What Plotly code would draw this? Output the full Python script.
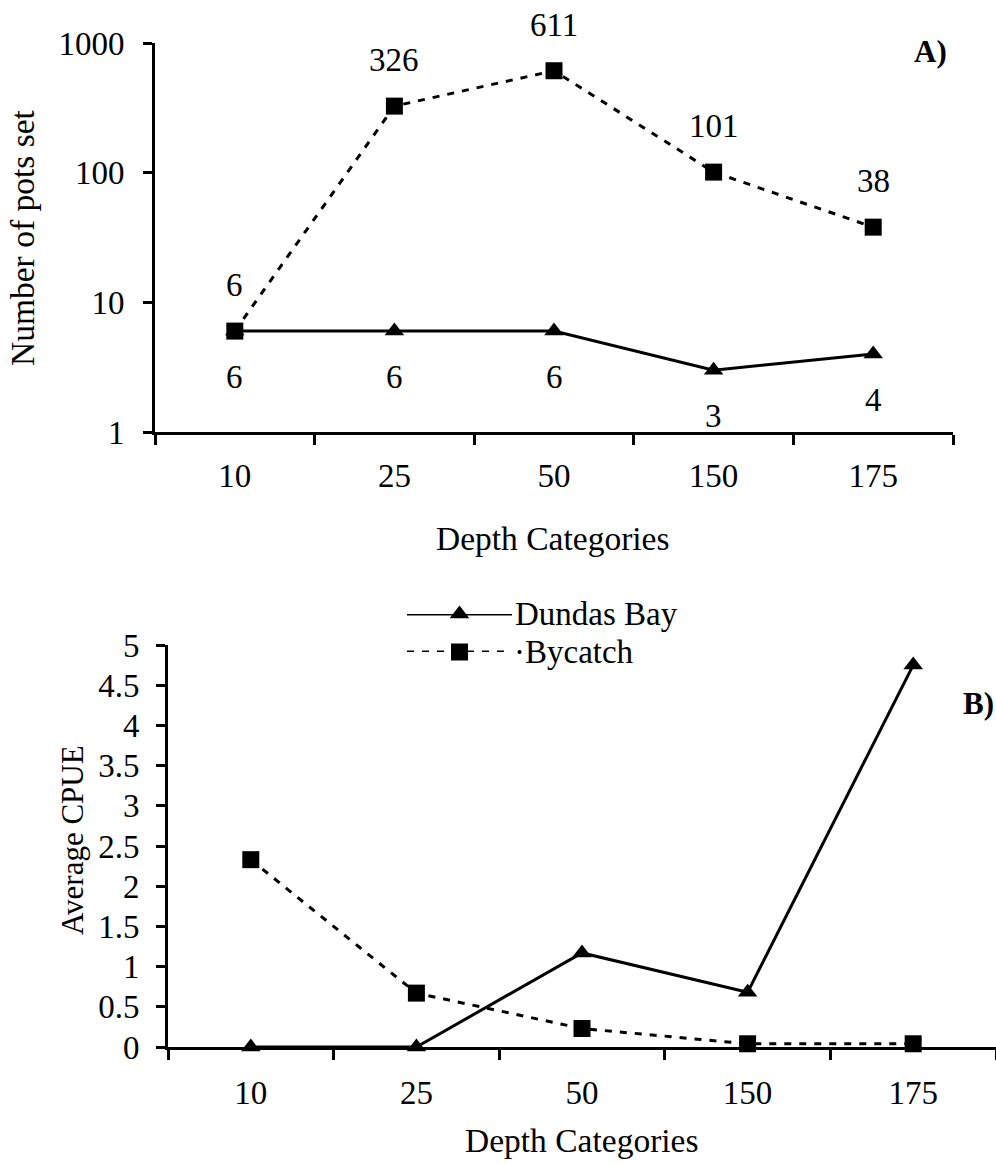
import math
import plotly.graph_objects as go

# ---- data ----
depth_categories = ["10", "25", "50", "150", "175"]

# Panel A: number of pots set per depth category
pots_dundas = [6, 6, 6, 3, 4]
pots_bycatch = [6, 326, 611, 101, 38]

# Panel B: average CPUE per depth category
cpue_dundas = [0.0, 0.0, 1.17, 0.68, 4.75]
cpue_bycatch = [2.33, 0.67, 0.23, 0.04, 0.04]

pots_ticks = [1, 10, 100, 1000]
cpue_ticks = [0, 0.5, 1, 1.5, 2, 2.5, 3, 3.5, 4, 4.5, 5]

series_names = ["Dundas Bay", "Bycatch"]

# ---- page geometry (pixels) ----
W, H = 996, 1164
FONT = "Times New Roman, Liberation Serif, serif"
BLACK = "#000000"
FS = 33


def fx(p):
    return p / W


def fy(p):
    return 1 - p / H


solid = dict(color=BLACK, width=3)
dashed = dict(color=BLACK, width=3, dash="7px,8px")
tri = dict(symbol="triangle-up", size=17, color=BLACK)
sq = dict(symbol="square", size=17, color=BLACK)

fig = go.Figure()

# Panel A
fig.add_trace(go.Scatter(x=depth_categories, y=pots_bycatch, mode="lines+markers",
                         line=dashed, marker=sq, xaxis="x", yaxis="y",
                         cliponaxis=False, showlegend=False))
fig.add_trace(go.Scatter(x=depth_categories, y=pots_dundas, mode="lines+markers",
                         line=solid, marker=tri, xaxis="x", yaxis="y",
                         cliponaxis=False, showlegend=False))

# Panel B
fig.add_trace(go.Scatter(x=depth_categories, y=cpue_bycatch, mode="lines+markers",
                         line=dashed, marker=sq, xaxis="x2", yaxis="y2",
                         cliponaxis=False, showlegend=False))
fig.add_trace(go.Scatter(x=depth_categories, y=cpue_dundas, mode="lines+markers",
                         line=solid, marker=tri, xaxis="x2", yaxis="y2",
                         cliponaxis=False, showlegend=False))

# Legend keys drawn on a small hidden axis pair
for row, (ln, mk) in zip([1, 0], [(solid, tri), (dashed, sq)]):
    fig.add_trace(go.Scatter(x=[0, 1], y=[row, row], mode="lines", line=ln,
                             xaxis="x3", yaxis="y3", cliponaxis=False,
                             showlegend=False, hoverinfo="skip"))
    fig.add_trace(go.Scatter(x=[0.5], y=[row], mode="markers", marker=mk,
                             xaxis="x3", yaxis="y3", cliponaxis=False,
                             showlegend=False, hoverinfo="skip"))

annotations = []

# value labels for panel A (x given as category index)
for i, v in enumerate(pots_bycatch):
    annotations.append(dict(x=i, y=math.log10(v), xref="x", yref="y", text=str(v),
                            xanchor="center", yanchor="middle",
                            showarrow=False, yshift=46, font=dict(size=FS)))
for i, v in enumerate(pots_dundas):
    annotations.append(dict(x=i, y=math.log10(v), xref="x", yref="y", text=str(v),
                            xanchor="center", yanchor="middle",
                            showarrow=False, yshift=-46, font=dict(size=FS)))


def label(px, py, text, size=FS, angle=0, xanchor="center"):
    return dict(x=fx(px), y=fy(py), xref="paper", yref="paper", text=text,
                textangle=angle, xanchor=xanchor, yanchor="middle",
                showarrow=False, font=dict(size=size))


# axis titles, panel tags and legend text
annotations += [
    label(23, 238, "Number of pots set", size=33.5, angle=-90),
    label(553, 538, "Depth Categories", size=33.5),
    label(72, 840, "Average CPUE", size=31, angle=-90),
    label(582, 1140, "Depth Categories", size=33.5),
    label(930, 52, "<b>A)</b>", size=31),
    label(978, 703, "<b>B)</b>", size=31),
    label(513, 614, series_names[0], xanchor="left"),
    label(512, 652, "\u00b7" + series_names[1], xanchor="left"),
]

xcommon = dict(type="category", range=[-0.5, 4.5], tickson="boundaries",
               showline=True, linewidth=3, linecolor=BLACK, ticks="outside",
               ticklen=10, tickwidth=3, tickcolor=BLACK, showgrid=False,
               zeroline=False, tickfont=dict(size=FS), fixedrange=True)
ycommon = dict(showline=True, linewidth=3, linecolor=BLACK, ticks="outside",
               ticklen=9, tickwidth=3, tickcolor=BLACK, showgrid=False,
               zeroline=False, tickfont=dict(size=FS), fixedrange=True)

fig.update_layout(
    width=W, height=H,
    margin=dict(l=0, r=0, t=0, b=0, autoexpand=False),
    paper_bgcolor="white", plot_bgcolor="white",
    font=dict(family=FONT, color=BLACK, size=FS),
    showlegend=False,
    xaxis=dict(domain=[fx(155), fx(953)], anchor="y", ticklabelstandoff=12, **xcommon),
    yaxis=dict(domain=[fy(432), fy(43)], anchor="x", type="log", range=[0, 3],
               tickvals=pots_ticks, ticktext=[str(t) for t in pots_ticks],
               ticklabelstandoff=12, **ycommon),
    xaxis2=dict(domain=[fx(168), fx(996)], anchor="y2", ticklabelstandoff=14, **xcommon),
    yaxis2=dict(domain=[fy(1047), fy(645)], anchor="x2", range=[0, 5],
                tickvals=cpue_ticks, ticktext=[f"{t:g}" for t in cpue_ticks],
                ticklabelstandoff=10, **ycommon),
    xaxis3=dict(domain=[fx(407), fx(512)], anchor="y3", range=[0, 1], visible=False,
                fixedrange=True),
    yaxis3=dict(domain=[fy(652), fy(614)], anchor="x3", range=[0, 1], visible=False,
                fixedrange=True),
    annotations=annotations,
)

fig.write_html("out.html")
